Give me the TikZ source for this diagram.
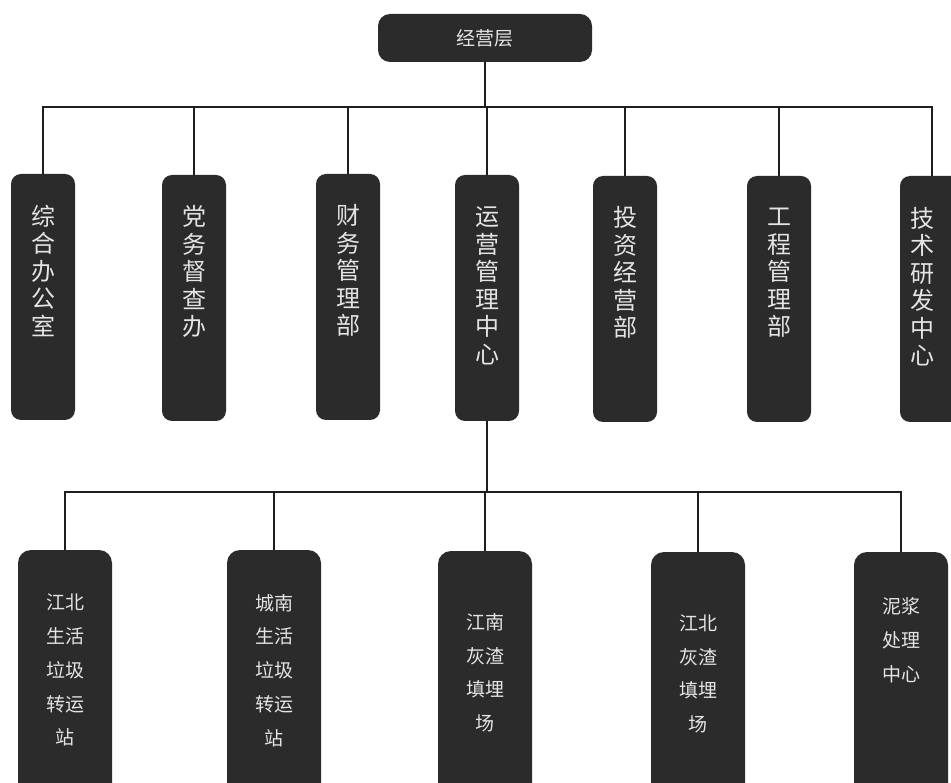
\documentclass[tikz,border=0pt]{standalone}
\usepackage{fontspec}
\newfontfamily\cjk{Noto Sans CJK SC}
\definecolor{boxc}{HTML}{2B2B2B}
\definecolor{txtc}{HTML}{E4E4E4}
\definecolor{linec}{HTML}{1E1E1E}
\tikzset{
  box/.style={draw=none, fill=boxc, inner sep=0pt},
  topbox/.style={box, rounded corners=12pt, minimum width=214pt, minimum height=48pt,
    text=txtc, font=\cjk\fontsize{19}{21}\selectfont},
  ubox/.style={box, rounded corners=10pt, minimum width=64pt, minimum height=246pt},
  lbox/.style={box, rounded corners=13pt, minimum width=94pt, minimum height=250pt},
  utext/.style={text=txtc, font=\cjk\fontsize{24}{27.5}\selectfont, align=center, inner sep=0pt, anchor=center},
  ltext/.style={text=txtc, font=\cjk\fontsize{19}{33.75}\selectfont, align=center, inner sep=0pt, anchor=center},
  conn/.style={draw=linec, line width=1.3pt}
}
\begin{document}
\begin{tikzpicture}[x=1pt,y=-1pt]
\useasboundingbox (0,0) rectangle (951,783);
\clip (0,0) rectangle (951,783);
\fill[white] (0,0) rectangle (951,783);

% top node
\node[topbox] (top) at (485,38) {经营层};

% upper row
\node[ubox, label={[utext, yshift=-97pt]north:综\\合\\办\\公\\室}] (u1) at (43,297) {};
\node[ubox, label={[utext, yshift=-97pt]north:党\\务\\督\\查\\办}] (u2) at (194,298) {};
\node[ubox, label={[utext, yshift=-97pt]north:财\\务\\管\\理\\部}] (u3) at (348,297) {};
\node[ubox, label={[utext, yshift=-111pt]north:运\\营\\管\\理\\中\\心}] (u4) at (487,298) {};
\node[ubox, label={[utext, yshift=-97pt]north:投\\资\\经\\营\\部}] (u5) at (625,299) {};
\node[ubox, label={[utext, yshift=-97pt]north:工\\程\\管\\理\\部}] (u6) at (779,299) {};
\node[ubox, label={[utext, xshift=-10pt, yshift=-111pt]north:技\\术\\研\\发\\中\\心}] (u7) at (932,299) {};

% lower row
\node[lbox, label={[ltext, yshift=-120.5pt]north:江北\\生活\\垃圾\\转运\\站}] (b1) at (65,675) {};
\node[lbox, label={[ltext, yshift=-120.5pt]north:城南\\生活\\垃圾\\转运\\站}] (b2) at (274,675) {};
\node[lbox, label={[ltext, yshift=-122pt]north:江南\\灰渣\\填埋\\场}] (b3) at (485,676) {};
\node[lbox, label={[ltext, yshift=-122pt]north:江北\\灰渣\\填埋\\场}] (b4) at (698,677) {};
\node[lbox, label={[ltext, yshift=-88.5pt]north:泥浆\\处理\\中心}] (b5) at (901,677) {};

% connectors
\coordinate (j1) at (485,107);
\coordinate (y2) at (0,492);
\coordinate (j2) at (u4.south |- y2);
\draw[conn] (top.south) -- (j1);
\foreach \i in {1,...,7} { \draw[conn] (j1) -| (u\i.north); }
\draw[conn] (u4.south) -- (j2);
\foreach \i in {1,...,5} { \draw[conn] (j2) -| (b\i.north); }
\end{tikzpicture}
\end{document}
